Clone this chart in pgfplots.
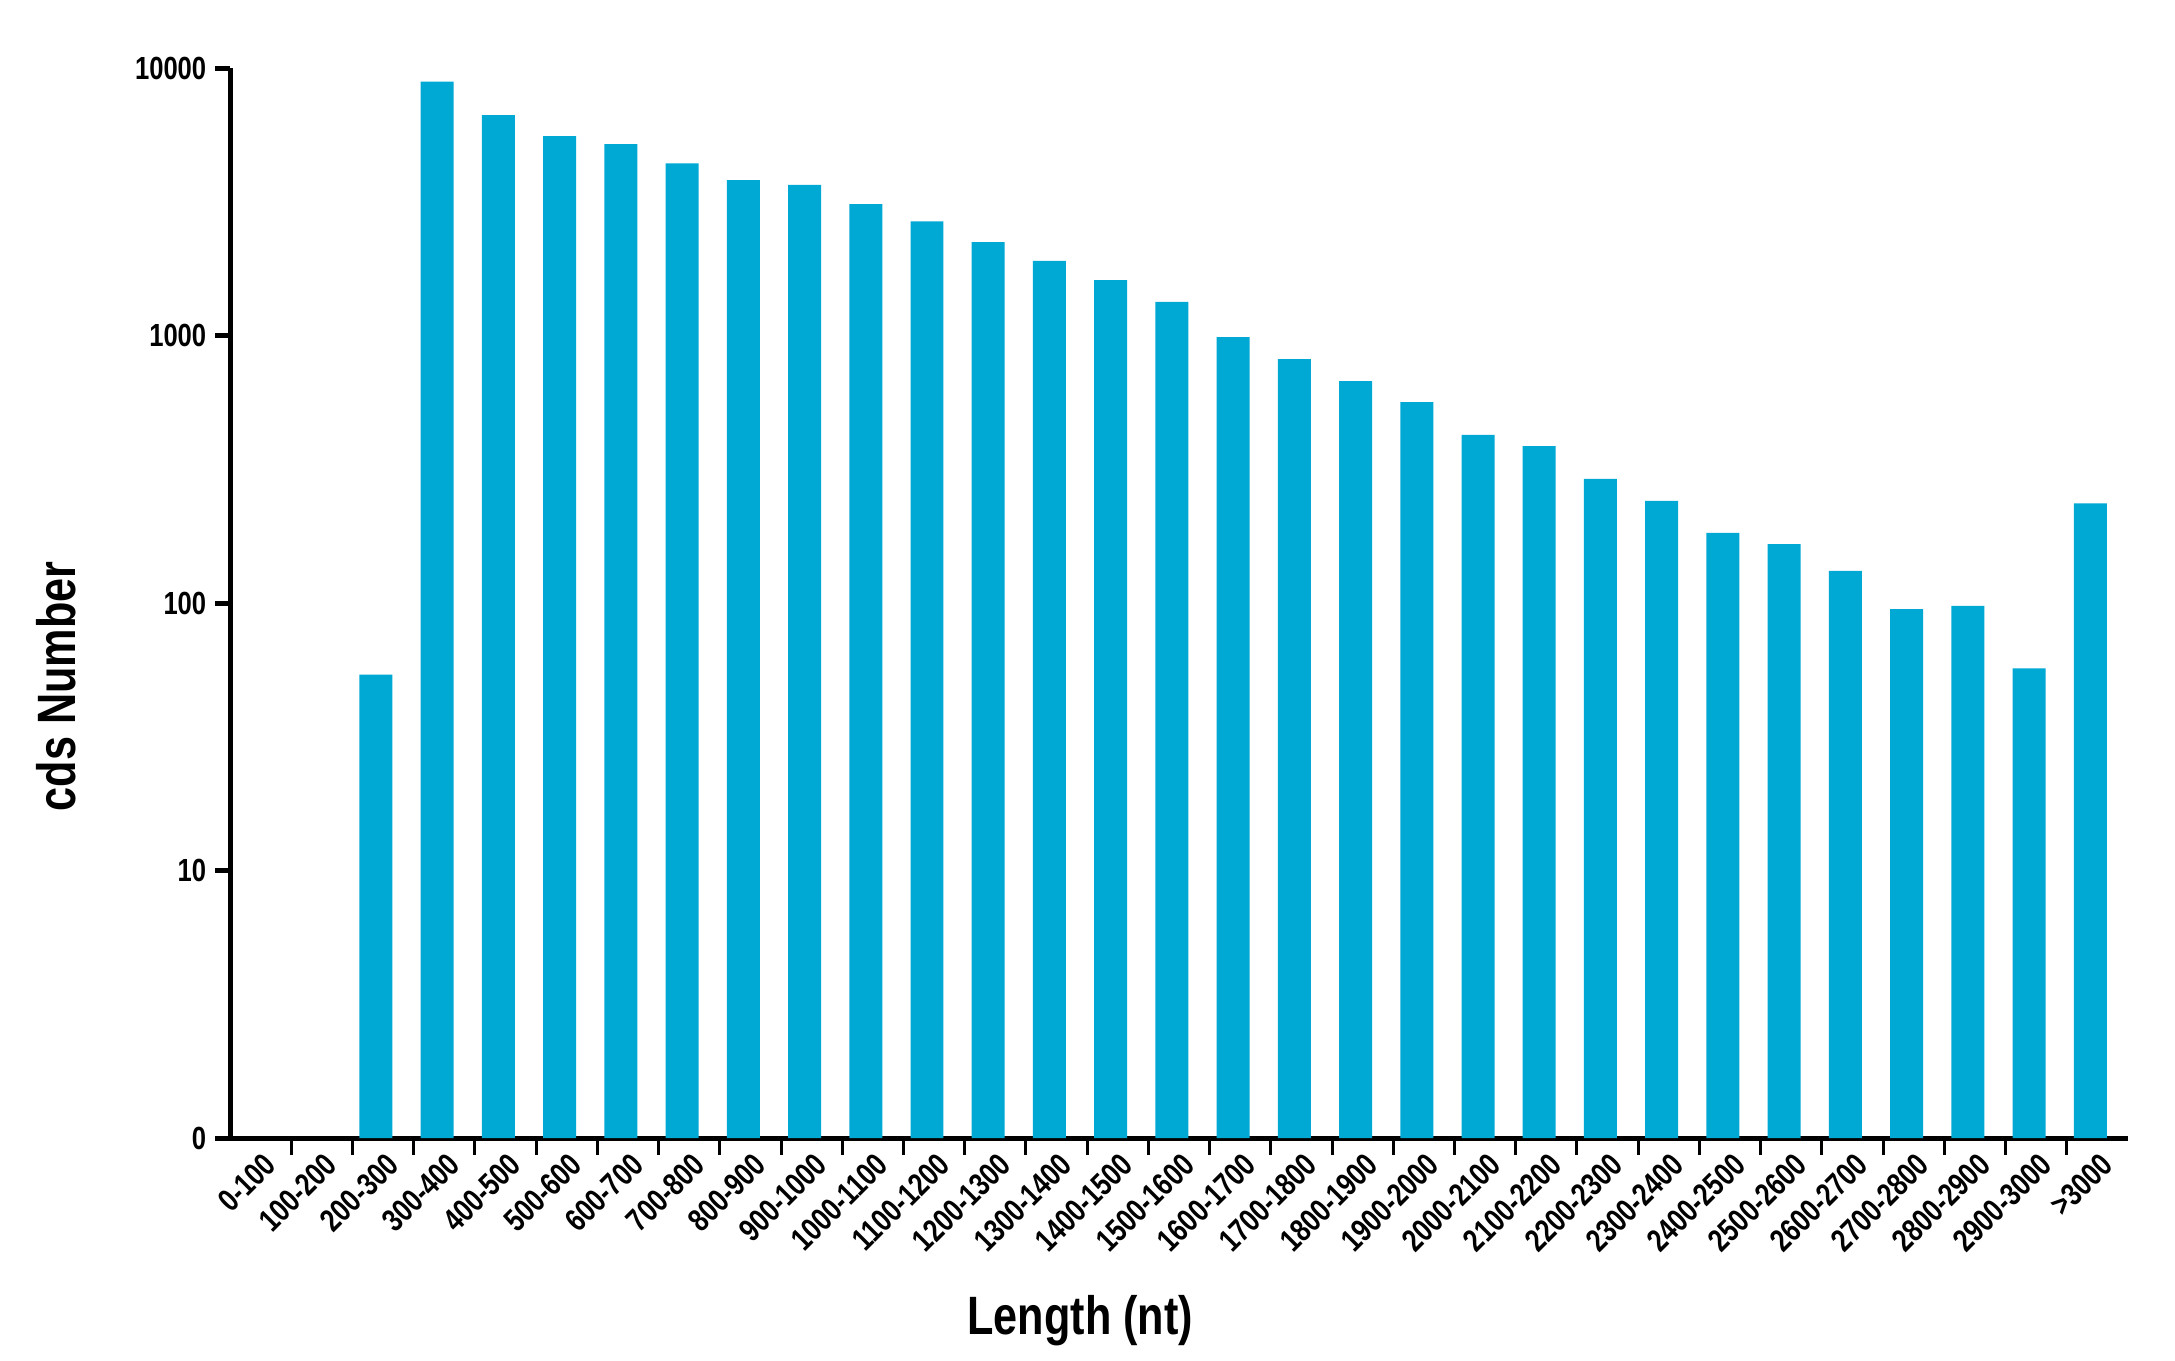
\documentclass[border=0pt]{standalone}
\usepackage{fontspec}
\setmainfont{Liberation Sans}[FakeStretch=0.8]
\usepackage{pgfplots}
\pgfplotsset{compat=1.18}
\definecolor{barblue}{RGB}{0,168,212}
\begin{document}
\begin{tikzpicture}
\begin{axis}[
  scale only axis, width=474.5pt, height=267.5pt,
  clip=false,
  xmin=-0.384, xmax=30.616,
  ymode=log, ymin=1, ymax=10000, log origin=infty,
  axis x line*=bottom, axis y line*=left,
  axis line style={line width=1.25pt, black},
  tick align=outside,
  major tick length=3.75pt,
  yminorticks=false,
  ytick={1,10,100,1000,10000},
  yticklabels={0,10,100,1000,10000},
  ytick style={line width=1.25pt, black},
  yticklabel style={font=\bfseries\fontsize{8}{9}\selectfont, inner sep=2pt},
  xtick={0,...,30},
  xticklabels={0-100,100-200,200-300,300-400,400-500,500-600,600-700,700-800,800-900,900-1000,1000-1100,1100-1200,1200-1300,1300-1400,1400-1500,1500-1600,1600-1700,1700-1800,1800-1900,1900-2000,2000-2100,2100-2200,2200-2300,2300-2400,2400-2500,2500-2600,2600-2700,2700-2800,2800-2900,2900-3000,>3000},
  xtick style={draw=none},
  xticklabel style={rotate=45, anchor=north east, inner sep=1pt, xshift=3pt, font=\bfseries\fontsize{8}{9}\selectfont},
  extra x ticks={0.616,1.616,...,29.616},
  extra x tick labels={},
  extra x tick style={major tick length=4.25pt, xtick style={draw=black, line width=0.75pt}},
  /pgf/number format/assume math mode=true,
  xlabel={Length (nt)},
  xlabel style={at={(axis description cs:0.448,-0.171)}, anchor=center, font=\bfseries\fontsize{13.5}{15}\selectfont},
  ylabel={cds Number},
  ylabel style={at={(axis description cs:-0.0917,0.422)}, anchor=center, font=\bfseries\fontsize{13.5}{15}\selectfont},
]
% categories 0-100 and 100-200 have value 0 (no bar)
\addplot[ybar, bar width=8.25pt, fill=barblue, draw=none] coordinates {
  (2,54) (3,8890) (4,6670) (5,5570) (6,5200) (7,4400) (8,3810) (9,3660)
  (10,3100) (11,2670) (12,2235) (13,1900) (14,1610) (15,1335) (16,987)
  (17,817) (18,676) (19,564) (20,425) (21,386) (22,291) (23,241) (24,183)
  (25,166) (26,132) (27,95) (28,97.5) (29,57) (30,236)
};
\coordinate (bl) at (rel axis cs:-0.1212,-0.2075);
\coordinate (tr) at (rel axis cs:1.0248,1.0636);
\end{axis}
\pgfresetboundingbox
\path[use as bounding box] (bl) rectangle (tr);
\end{tikzpicture}
\end{document}
